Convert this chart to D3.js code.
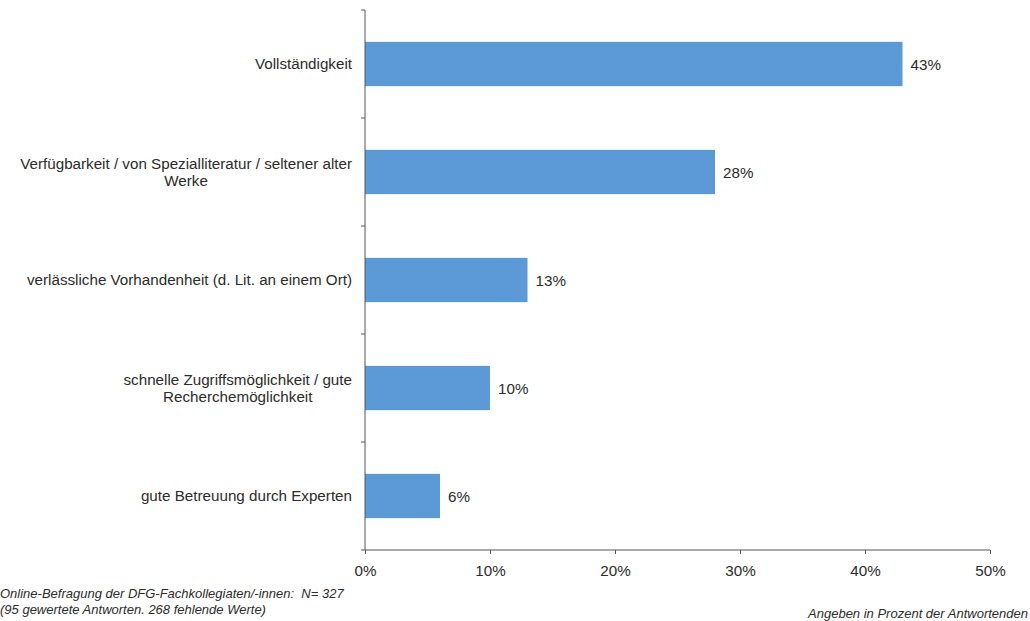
<!DOCTYPE html>
<html>
<head>
<meta charset="utf-8">
<script src="https://cdn.jsdelivr.net/npm/d3@7"></script>
<style>
  html, body { margin: 0; padding: 0; background: #fff; }
  svg { display: block; }
  text { font-family: "Liberation Sans", Arial, sans-serif; fill: #2b2b2b; }
</style>
</head>
<body>
<svg id="chart" width="1030" height="621"></svg>
<script>
// Survey answers: share of respondents naming each criterion
const categories = [
  "Vollständigkeit",
  "Verfügbarkeit / von Spezialliteratur / seltener alter\nWerke",
  "verlässliche Vorhandenheit (d. Lit. an einem Ort)",
  "schnelle Zugriffsmöglichkeit / gute\nRecherchemöglichkeit",
  "gute Betreuung durch Experten"
];
const values = [43, 28, 13, 10, 6];
const xTicks = [0, 10, 20, 30, 40, 50];
const footnoteLines = [
  "Online-Befragung der DFG-Fachkollegiaten/-innen:\u00a0 N= 327",
  "(95 gewertete Antworten. 268 fehlende Werte)"
];
const unitNote = "Angeben in Prozent der Antwortenden";

const svg = d3.select("#chart");
const plot = { left: 365, right: 990, top: 10, bottom: 550 };
const fontSize = 15.2;

const x = d3.scaleLinear().domain([0, 50]).range([plot.left, plot.right]);
const y = d3.scaleBand().domain(categories).range([plot.top, plot.bottom])
  .paddingInner(0.59).paddingOuter(0.295);

const axisColor = "#555";

// Bars
svg.append("g").selectAll("rect")
  .data(categories)
  .join("rect")
  .attr("x", x(0))
  .attr("y", d => y(d))
  .attr("width", (d, i) => x(values[i]) - x(0))
  .attr("height", y.bandwidth())
  .attr("fill", "#5b9ad6");

// Value labels
svg.append("g").selectAll("text")
  .data(categories)
  .join("text")
  .attr("x", (d, i) => x(values[i]) + 8)
  .attr("y", d => y(d) + y.bandwidth() / 2 + 1)
  .attr("dy", "0.35em")
  .attr("font-size", fontSize)
  .text((d, i) => values[i] + "%");

// X axis
const xAxis = svg.append("g")
  .attr("transform", `translate(0,${plot.bottom})`)
  .call(d3.axisBottom(x).tickValues(xTicks).tickSize(4).tickPadding(11)
    .tickFormat(d => d + "%"));
xAxis.select(".domain").attr("stroke", axisColor).attr("d", `M${plot.left},0H${plot.right}`);
xAxis.selectAll(".tick line").attr("stroke", axisColor);
xAxis.selectAll(".tick text").attr("font-size", fontSize).attr("fill", "#2b2b2b")
  .attr("font-family", "Liberation Sans, Arial, sans-serif");

// Y axis line with boundary ticks between categories
const yAxis = svg.append("g");
yAxis.append("line")
  .attr("x1", plot.left).attr("x2", plot.left)
  .attr("y1", plot.top).attr("y2", plot.bottom)
  .attr("stroke", axisColor);
const step = y.step();
const boundaries = d3.range(categories.length + 1).map(i => plot.top + i * step);
yAxis.selectAll("line.b")
  .data(boundaries)
  .join("line")
  .attr("class", "b")
  .attr("x1", plot.left - 4).attr("x2", plot.left)
  .attr("y1", d => d).attr("y2", d => d)
  .attr("stroke", axisColor);

// Category labels: block right-aligned, lines centred within the block
const labelRight = 352;
const lineH = 17.5;
const catG = svg.append("g").attr("font-size", fontSize);
categories.forEach(cat => {
  const lines = cat.split("\n");
  const t = catG.append("text")
    .attr("text-anchor", "middle");
  const tmp = catG.append("text");
  const widths = lines.map(l => { tmp.text(l); return tmp.node().getComputedTextLength(); });
  tmp.remove();
  const cx = labelRight - d3.max(widths) / 2;
  const cy = y(cat) + y.bandwidth() / 2 - (lines.length - 1) * lineH / 2;
  lines.forEach((l, i) => {
    t.append("tspan")
      .attr("x", cx)
      .attr("y", cy + i * lineH)
      .attr("dy", "0.35em")
      .text(l);
  });
});

// Footnotes
const foot = svg.append("g").attr("font-size", 13).attr("font-style", "italic");
foot.selectAll("text.note")
  .data(footnoteLines)
  .join("text")
  .attr("class", "note")
  .attr("x", 0)
  .attr("y", (d, i) => 598 + i * 16)
  .text(d => d);

foot.append("text")
  .attr("x", 1028)
  .attr("y", 618)
  .attr("text-anchor", "end")
  .text(unitNote);
</script>
</body>
</html>
